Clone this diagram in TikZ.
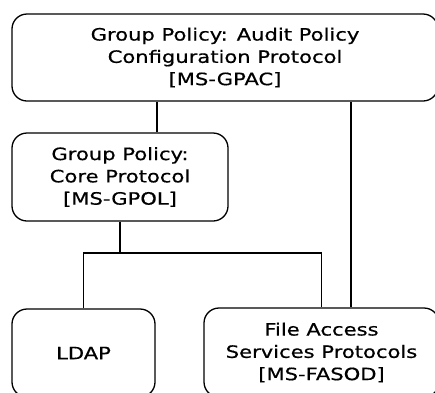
\documentclass[tikz,border=0pt]{standalone}
\usepackage{fontspec}
\setmainfont{DejaVu Sans}[FakeStretch=1.24,FakeBold=0.6]
\begin{document}
\begin{tikzpicture}[x=1pt,y=-1pt,
  box/.style={draw, line width=1.3pt, rounded corners=15pt, align=center,
    font=\fontsize{17}{22.3}\selectfont, inner sep=0pt},
  conn/.style={line width=1.3pt}]
\useasboundingbox (0,0) rectangle (435,392);
\clip (0,0) rectangle (435,392);
\node[box, minimum width=426pt, minimum height=87pt] (top) at (225,57.5)
  {Group Policy: Audit Policy\\Configuration Protocol\\{[MS-GPAC]}};
\node[box, minimum width=216pt, minimum height=88pt] (core) at (120,177)
  {Group Policy:\\Core Protocol\\{[MS-GPOL]}};
\node[box, minimum width=143pt, minimum height=88pt] (ldap) at (83.5,353)
  {LDAP};
\node[box, minimum width=235pt, minimum height=89pt] (fasod) at (321.5,352.5)
  {File Access\\Services Protocols\\{[MS-FASOD]}};
\coordinate (j) at (120,253);
\draw[conn] ([xshift=37pt]core.north) -- ([xshift=37pt]core.north |- top.south);
\draw[conn] ([xshift=29.5pt]fasod.north) -- ([xshift=29.5pt]fasod.north |- top.south);
\draw[conn] (core.south) -- (j);
\draw[conn] (ldap.north) |- (j) -| (fasod.north);
\end{tikzpicture}
\end{document}
